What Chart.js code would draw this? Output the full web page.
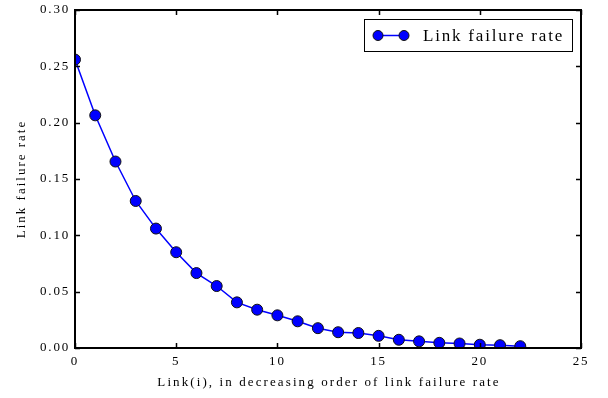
<!DOCTYPE html>
<html>
<head>
<meta charset="utf-8">
<script src="https://cdn.jsdelivr.net/npm/chart.js@4"></script>
<style>
  html, body { margin: 0; padding: 0; background: #fff; }
  #wrap { width: 608px; height: 398px; }
</style>
</head>
<body>
<div id="wrap"><canvas id="myChart" width="608" height="398"></canvas></div>
<script>
// data
const linkIndex = [0, 1, 2, 3, 4, 5, 6, 7, 8, 9, 10, 11, 12, 13, 14, 15, 16, 17, 18, 19, 20, 21, 22];
const failureRate = [0.256, 0.2065, 0.1655, 0.1305, 0.106, 0.085, 0.0665, 0.055, 0.0405, 0.034, 0.029,
  0.0237, 0.0176, 0.014, 0.0133, 0.0108, 0.0073, 0.0059, 0.0046, 0.004, 0.0029, 0.0025, 0.0016];
const xTicks = [0, 5, 10, 15, 20, 25];
const yTicks = [0, 0.05, 0.10, 0.15, 0.20, 0.25, 0.30];

const seriesLabel = "Link failure rate";
const xTitle = "Link(i), in decreasing order of link failure rate";
const yTitle = "Link failure rate";
const serif = "'Liberation Serif', 'Times New Roman', serif";

// frame, inward ticks on all four sides, axis titles and the boxed legend
const framePlugin = {
  id: "frame",
  beforeDraw(chart) {
    // the reference text is spread out a little, tick labels too
    chart.ctx.letterSpacing = "1.8px";
  },
  afterDraw(chart) {
    const ctx = chart.ctx;
    const area = chart.chartArea;
    const xs = chart.scales.x;
    const ys = chart.scales.y;
    ctx.save();
    ctx.strokeStyle = "#000";
    ctx.lineWidth = 1.5;
    xs.ticks.forEach((t) => {
      const px = Math.round(xs.getPixelForValue(t.value)) + 0.5;
      ctx.beginPath();
      ctx.moveTo(px, area.bottom); ctx.lineTo(px, area.bottom - 5);
      ctx.moveTo(px, area.top); ctx.lineTo(px, area.top + 5);
      ctx.stroke();
    });
    ys.ticks.forEach((t) => {
      const py = Math.round(ys.getPixelForValue(t.value)) + 0.5;
      ctx.beginPath();
      ctx.moveTo(area.left, py); ctx.lineTo(area.left + 5, py);
      ctx.moveTo(area.right, py); ctx.lineTo(area.right - 5, py);
      ctx.stroke();
    });
    ctx.lineWidth = 2;
    ctx.strokeRect(area.left, area.top, area.right - area.left, area.bottom - area.top);

    // axis titles
    ctx.fillStyle = "#000";
    ctx.font = "13px " + serif;
    ctx.letterSpacing = "2.1px";
    ctx.textAlign = "center";
    ctx.textBaseline = "middle";
    ctx.fillText(xTitle, (area.left + area.right) / 2 + 1, 383);
    ctx.save();
    ctx.translate(22, (area.top + area.bottom) / 2);
    ctx.rotate(-Math.PI / 2);
    ctx.letterSpacing = "2px";
    ctx.fillText(yTitle, 0, 0);
    ctx.restore();

    // legend box
    const ds = chart.data.datasets[0];
    const bx = 364, by = 19, bw = 208, bh = 32;
    ctx.fillStyle = "#fff";
    ctx.fillRect(bx, by, bw, bh);
    ctx.lineWidth = 1;
    ctx.strokeStyle = "#000";
    ctx.strokeRect(bx + 0.5, by + 0.5, bw, bh);
    const ly = by + bh / 2 + 0.5;
    ctx.strokeStyle = ds.borderColor;
    ctx.lineWidth = 1.5;
    ctx.beginPath();
    ctx.moveTo(378, ly); ctx.lineTo(404, ly);
    ctx.stroke();
    [378, 404].forEach((cx) => {
      ctx.beginPath();
      ctx.arc(cx, ly, 5, 0, Math.PI * 2);
      ctx.fillStyle = ds.pointBackgroundColor;
      ctx.fill();
      ctx.strokeStyle = ds.pointBorderColor;
      ctx.lineWidth = 1;
      ctx.stroke();
    });
    ctx.fillStyle = "#000";
    ctx.font = "17px " + serif;
    ctx.letterSpacing = "1.8px";
    ctx.textAlign = "left";
    ctx.fillText(ds.label, 423, ly + 1);
    ctx.restore();
    ctx.letterSpacing = "0px";
  }
};

new Chart(document.getElementById("myChart"), {
  type: "line",
  data: {
    datasets: [
      {
        label: seriesLabel,
        data: linkIndex.map((x, i) => ({ x: x, y: failureRate[i] })),
        borderColor: "#0000ff",
        borderWidth: 1.5,
        pointBackgroundColor: "#0000ff",
        pointBorderColor: "#111",
        pointBorderWidth: 1,
        pointRadius: 5.5,
        tension: 0,
        clip: 0,
      },
    ],
  },
  options: {
    responsive: false,
    animation: false,
    layout: { padding: { left: 0, top: 10, right: 27, bottom: 0 } },
    plugins: { legend: { display: false }, tooltip: { enabled: false } },
    scales: {
      x: {
        type: "linear",
        min: 0,
        max: 25,
        afterBuildTicks: (s) => { s.ticks = xTicks.map((v) => ({ value: v })); },
        afterFit: (s) => {
          s.height = 50;
          s.paddingLeft = 0;
          s.paddingRight = 0;
        },
        grid: { display: false, drawTicks: false },
        border: { display: false },
        ticks: { color: "#000", padding: 6, maxRotation: 0, font: { family: serif, size: 13 } },
      },
      y: {
        min: 0,
        max: 0.3,
        afterBuildTicks: (s) => { s.ticks = yTicks.map((v) => ({ value: v })); },
        afterFit: (s) => {
          s.width = 75;
          s.paddingTop = 0;
          s.paddingBottom = 0;
        },
        grid: { display: false, drawTicks: false },
        border: { display: false },
        ticks: {
          color: "#000",
          padding: 5,
          font: { family: serif, size: 13 },
          callback: (v) => Number(v).toFixed(2),
        },
      },
    },
  },
  plugins: [framePlugin],
});
</script>
</body>
</html>
